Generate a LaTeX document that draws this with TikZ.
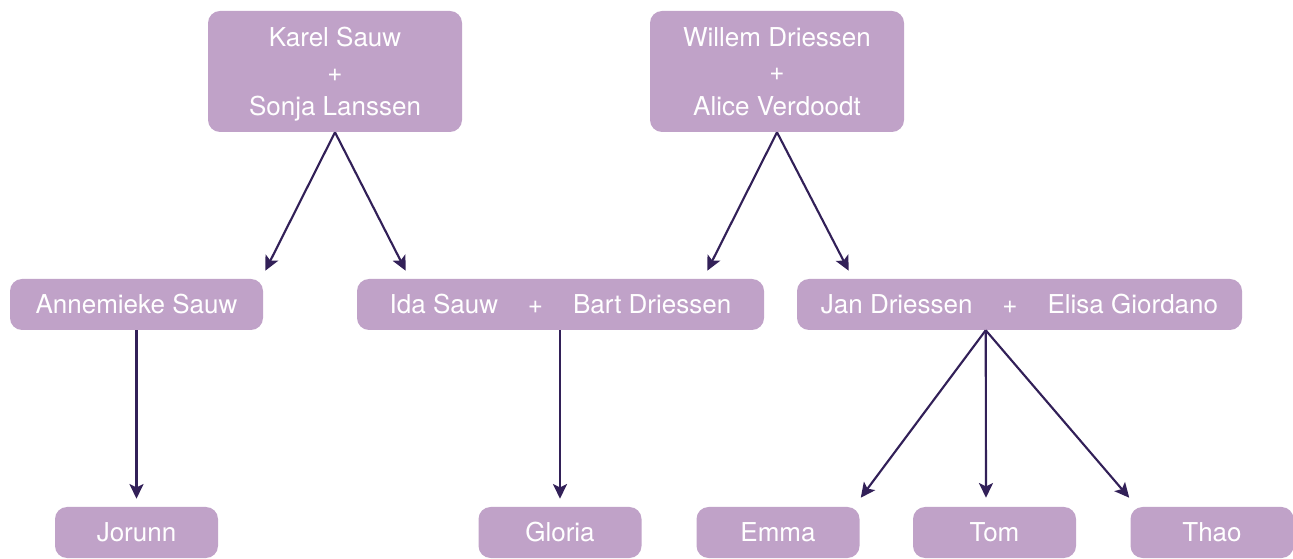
\documentclass[tikz,border=0pt]{standalone}
\usepackage{fontspec}
\setmainfont{TeX Gyre Heros}
\usetikzlibrary{arrows.meta,calc}
\definecolor{boxfill}{RGB}{192,162,200}
\definecolor{arrowcol}{RGB}{50,32,88}
\begin{document}
\begin{tikzpicture}[x=0.75pt,y=-0.75pt,
  person/.style={fill=boxfill,draw=none,rounded corners=9pt,text=white,inner sep=0pt,
     font=\fontsize{19.5}{26}\selectfont,align=center},
  couple/.style={person,minimum width=190.5pt,minimum height=90.75pt,text depth=0pt},
  mid/.style={person,minimum height=38.25pt},
  leaf/.style={person,minimum width=122.25pt,minimum height=38.25pt},
  link/.style={draw=arrowcol,line width=1.6pt,-{Stealth[length=11pt,width=10.5pt,inset=2.5pt]}}]
\useasboundingbox (0,0) rectangle (1293,559);
\node[couple] (karel) at (335,71.5) {Karel Sauw\\+\\Sonja Lanssen};
\node[couple] (willem) at (777,71.5) {Willem Driessen\\+\\Alice Verdoodt};
\node[mid,minimum width=189.75pt] (anne) at (136.5,304.5) {Annemieke Sauw};
\node[mid,minimum width=305.25pt] (ida) at (560.5,304.5) {Ida Sauw\hspace{1.15em}+\hspace{1.15em}Bart Driessen};
\node[mid,minimum width=333.75pt] (jan) at (1019.5,304.5) {Jan Driessen\hspace{1.15em}+\hspace{1.15em}Elisa Giordano};
\node[leaf] (jorunn) at (136.5,532.5) {Jorunn};
\node[leaf] (gloria) at (560,532.5) {Gloria};
\node[leaf] (emma) at (778,532.5) {Emma};
\node[leaf] (tom) at (994.5,532.5) {Tom};
\node[leaf] (thao) at (1212,532.5) {Thao};
\coordinate (js) at ($(jan.south west)+(189,0)$);
\coordinate (is) at (ida.south -| gloria.north);
\draw[link] (karel.south) -- ($(anne.north east)+(2,-8)$);
\draw[link] (karel.south) -- ($(ida.north west)+(49,-8)$);
\draw[link] (willem.south) -- ($(ida.north east)+(-57,-8)$);
\draw[link] (willem.south) -- ($(jan.north west)+(52,-8)$);
\draw[link] (anne.south) -- ($(jorunn.north)+(0,-8)$);
\draw[link] (is) -- ($(gloria.north)+(0,-8)$);
\draw[link] (js) -- ($(emma.north east)+(1,-9)$);
\draw[link] (js) -- ($(tom.north)+(-8.5,-9)$);
\draw[link] (js) -- ($(thao.north west)+(-1,-9)$);
\end{tikzpicture}
\end{document}
